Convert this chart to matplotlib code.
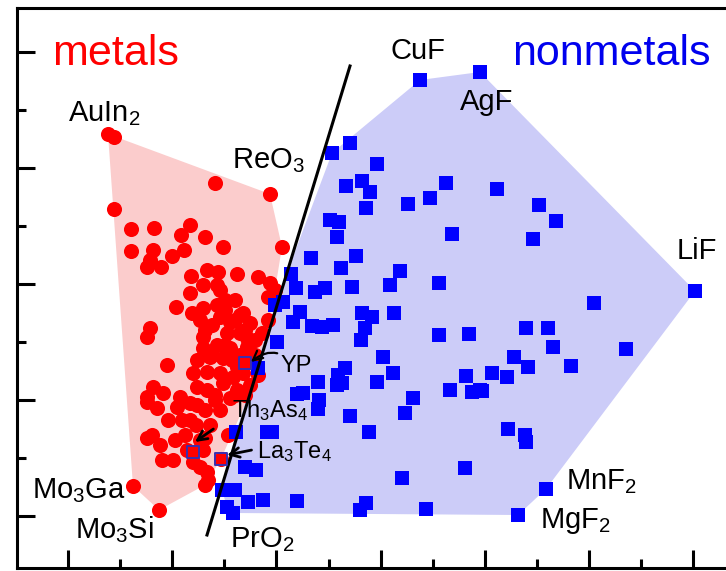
import numpy as np
import matplotlib
matplotlib.use("Agg")
import matplotlib.pyplot as plt

plt.rcParams['font.family'] = ['Liberation Sans', 'DejaVu Sans']
plt.rcParams['mathtext.fontset'] = 'custom'
plt.rcParams['mathtext.rm'] = 'Liberation Sans'
plt.rcParams['mathtext.it'] = 'Liberation Sans'
plt.rcParams['mathtext.default'] = 'regular'

# descriptor space (unlabelled axes)
metal_x = [91, 97, 198, 253, 97, 114, 137, 173, 164, 188, 206, 265, 114, 136, 167,
           155, 133, 130, 144, 174, 190, 201, 220, 241, 186, 200, 173, 203, 253, 258,
           251, 159, 175, 186, 200, 203, 213, 226, 233, 133, 130, 188, 186, 210, 223,
           230, 186, 200, 213, 230, 150, 180, 193, 206, 220, 176, 190, 203, 216, 226,
           136, 130, 146, 163, 180, 190, 206, 220, 251, 223, 245, 140, 160, 173, 180,
           130, 165, 179, 151, 135, 130, 211, 170, 186, 176, 145, 156, 176, 183, 190,
           191, 188, 204, 116, 142, 228, 233, 215, 188, 195, 208, 218, 183, 198, 213,
           228, 208, 218, 228, 238, 195, 208, 223, 238, 241, 233, 218, 198, 188, 203,
           173, 193, 158, 143, 168, 183]
metal_y = [434, 431, 385, 374, 359, 339, 340, 343, 333, 331, 321, 321, 317, 318, 318,
           312, 308, 301, 301, 292, 298, 296, 294, 291, 283, 283, 275, 278, 285, 278,
           271, 261, 255, 260, 263, 251, 246, 255, 245, 240, 231, 238, 231, 235, 235,
           230, 220, 223, 220, 221, 203, 208, 211, 210, 201, 195, 196, 195, 191, 195,
           181, 171, 175, 171, 181, 178, 185, 178, 248, 253, 235, 160, 161, 165, 163,
           166, 148, 143, 148, 133, 130, 133, 118, 118, 116, 108, 108, 106, 101, 96,
           88, 83, 109, 82, 58, 205, 213, 208, 130, 243, 268, 268, 248, 168, 170,
           173, 258, 248, 238, 228, 213, 223, 213, 213, 193, 183, 173, 173, 158, 158,
           148, 143, 128, 123, 133, 128]

nonmetal_x = [403, 463, 333, 315, 360, 329, 345, 353, 391, 413, 429, 480, 349, 313,
              322, 320, 435, 294, 339, 324, 383, 274, 279, 298, 308, 335, 373, 422,
              522, 539, 516, 678, 577, 509, 531, 536, 609, 497, 511, 554, 475, 490,
              465, 491, 508, 509, 283, 276, 295, 305, 316, 345, 355, 348, 344, 377,
              422, 452, 260, 366, 376, 328, 321, 320, 325, 301, 360, 449, 433, 455,
              463, 280, 286, 302, 301, 396, 388, 333, 352, 448, 385, 280, 349, 343,
              409, 529, 501, 219, 250, 255, 228, 239, 205, 218, 210, 216, 231, 246,
              258, 266, 241]
nonmetal_y = [488, 496, 425, 415, 404, 382, 387, 376, 364, 370, 385, 379, 360, 348,
              346, 331, 334, 310, 312, 300, 297, 294, 280, 276, 280, 281, 283, 285,
              363, 347, 329, 277, 265, 240, 240, 221, 219, 211, 201, 202, 195, 191,
              177, 139, 133, 126, 256, 246, 242, 241, 243, 255, 251, 240, 228, 255,
              233, 234, 226, 211, 195, 200, 193, 183, 185, 186, 186, 192, 178, 176,
              178, 174, 175, 168, 159, 170, 155, 152, 136, 100, 90, 67, 65, 58,
              59, 79, 53, 136, 136, 136, 101, 98, 78, 78, 61, 55, 66, 68,
              263, 266, 200]

# marked compounds (open squares)
marked_names = ['YP', 'Th$_3$As$_4$', 'La$_3$Te$_4$']
marked_x = [228, 176, 204]
marked_y = [205, 116, 109]

# labelled extreme compounds: (text, x, y)
labels = [('AuIn$_2$', 51, 447), ('ReO$_3$', 215, 400), ('CuF', 373, 509),
          ('AgF', 443, 458), ('LiF', 660, 309), ('MnF$_2$', 549, 79),
          ('MgF$_2$', 523, 40), ('PrO$_2$', 213, 21), ('Mo$_3$Ga', 15, 70),
          ('Mo$_3$Si', 58, 30)]

# separating line end points
sep_x = [190, 333]
sep_y = [33, 502]


def convex_hull(x, y):
    pts = sorted(set(zip(x, y)))

    def cross(o, a, b):
        return (a[0] - o[0]) * (b[1] - o[1]) - (a[1] - o[1]) * (b[0] - o[0])

    lower, upper = [], []
    for p in pts:
        while len(lower) >= 2 and cross(lower[-2], lower[-1], p) <= 0:
            lower.pop()
        lower.append(p)
    for p in reversed(pts):
        while len(upper) >= 2 and cross(upper[-2], upper[-1], p) <= 0:
            upper.pop()
        upper.append(p)
    return np.array(lower[:-1] + upper[:-1])


fig = plt.figure(figsize=(7.26, 5.71), dpi=100)
ax = fig.add_axes([17 / 726, 3 / 571, 723 / 726, 560 / 571])
ax.set_xlim(0, 723)
ax.set_ylim(0, 560)

#
# shaded regions
hull_m = convex_hull(metal_x, metal_y)
hull_n = convex_hull(nonmetal_x, nonmetal_y)
ax.fill(hull_m[:, 0], hull_m[:, 1], color='#fbcccc', lw=0, zorder=1)
ax.fill(hull_n[:, 0], hull_n[:, 1], color='#ccccf8', lw=0, zorder=2)

#
# points
ax.scatter(metal_x, metal_y, s=118, marker='o', color='#ff0000', lw=0, zorder=3)
ax.scatter(nonmetal_x, nonmetal_y, s=90, marker='s', color='#0000ff', lw=0, zorder=4)
ax.scatter(marked_x, marked_y, s=80, marker='s', facecolor='none',
           edgecolor='#3a2fb0', lw=1.4, zorder=6)

ax.plot(sep_x, sep_y, color='black', lw=2.2, zorder=5)

#
# text
ax.text(35, 503, 'metals', color='#ff0000', fontsize=31, va='baseline', zorder=7)
ax.text(495, 503, 'nonmetals', color='#0000ee', fontsize=31, va='baseline', zorder=7)
for name, tx, ty in labels:
    ax.text(tx, ty, name, fontsize=21, va='baseline', zorder=7)

ax.annotate(marked_names[0], xy=(marked_x[0] + 6, marked_y[0] + 1), xytext=(263, 196),
            fontsize=17, va='baseline', zorder=7,
            arrowprops=dict(arrowstyle='->', lw=1.6, color='black',
                            connectionstyle='arc3,rad=0.5',
                            shrinkA=0, shrinkB=0))
ax.annotate(marked_names[1], xy=(marked_x[1] + 2, marked_y[1] + 10), xytext=(215, 151),
            fontsize=17, va='baseline', zorder=7,
            arrowprops=dict(arrowstyle='->', lw=2, color='black',
                            shrinkA=14, shrinkB=0, relpos=(0.1, 0.5)))
ax.annotate(marked_names[2], xy=(marked_x[2] + 6, marked_y[2] + 4), xytext=(240, 110),
            fontsize=17, va='baseline', zorder=7,
            arrowprops=dict(arrowstyle='->', lw=2, color='black',
                            shrinkA=2, shrinkB=0, relpos=(0, 0.6)))

#
# axes styling
for side in ['left', 'bottom', 'top', 'right']:
    ax.spines[side].set_linewidth(2.2)
ax.set_xticks(np.arange(51, 723, 104.2))
ax.set_xticks(np.arange(103.1, 723, 104.2), minor=True)
ax.set_yticks(np.arange(52, 560, 116))
ax.set_yticks(np.arange(110, 560, 116), minor=True)
ax.tick_params(which='both', direction='in', width=2.2, labelleft=False,
               labelbottom=False)
ax.tick_params(which='major', length=13)
ax.tick_params(which='minor', length=6.5)

fig.savefig('out.png', dpi=100)
